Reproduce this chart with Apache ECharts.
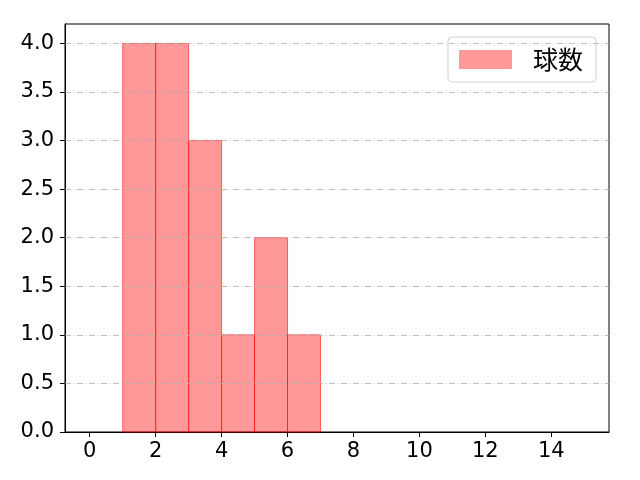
<!DOCTYPE html>
<html><head><meta charset="utf-8">
<script src="https://cdn.jsdelivr.net/npm/echarts@6/dist/echarts.min.js"></script>
<style>html,body{margin:0;padding:0;background:#fff}#c{width:640px;height:480px}</style>
</head><body><div id="c"></div>
<script>
const binStarts = [1, 2, 3, 4, 5, 6];
const binEnds = [2, 3, 4, 5, 6, 7];
const counts = [4, 4, 3, 1, 2, 1];
const xTicks = [0, 2, 4, 6, 8, 10, 12, 14];
const yTicks = [0, 0.5, 1, 1.5, 2, 2.5, 3, 3.5, 4];
const seriesName = '球数';

const FONT = '"DejaVu Sans", sans-serif';
const CJK = '"Noto Sans CJK JP", sans-serif';
const chart = echarts.init(document.getElementById('c'));
const data = binStarts.map((s, i) => [s, binEnds[i], counts[i]]);
chart.setOption({
  animation: false,
  grid: { left: 65, right: 31, top: 24, bottom: 48, show: true, borderColor: '#000', borderWidth: 1, backgroundColor: 'transparent' },
  xAxis: {
    type: 'value', min: -0.75, max: 15.75,
    axisLine: { show: true, onZero: false, lineStyle: { color: '#000', width: 1 } },
    splitLine: { show: false },
    axisTick: { show: true, inside: false, customValues: xTicks, length: 5, lineStyle: { color: '#000', width: 1 } },
    axisLabel: { customValues: xTicks, color: '#000', fontSize: 21, fontFamily: FONT, margin: 9 }
  },
  yAxis: {
    type: 'value', min: 0, max: 4.2,
    axisLine: { show: true, onZero: false, lineStyle: { color: '#000', width: 1 } },
    splitLine: { show: false },
    axisTick: { show: true, inside: false, customValues: yTicks, length: 5, lineStyle: { color: '#000', width: 1 } },
    axisLabel: { customValues: yTicks, color: '#000', fontSize: 21, fontFamily: FONT, margin: 11,
      formatter: v => v.toFixed(1) }
  },
  legend: {
    show: true, right: 44, top: 37, orient: 'vertical',
    itemWidth: 53, itemHeight: 19, itemGap: 10,
    padding: [10, 13, 10, 11],
    borderColor: '#d0d0d0', borderWidth: 1, borderRadius: 4, backgroundColor: '#fff',
    textStyle: { fontSize: 25, fontFamily: CJK, color: '#000', padding: [0, 0, 0, 16] },
    data: [{ name: seriesName, icon: 'rect' }]
  },
  series: [
    {
      type: 'line', name: '_grid', silent: true, data: [],
      markLine: {
        silent: true, symbol: 'none', label: { show: false },
        lineStyle: { color: '#b0b0b0', width: 0.8, type: [6, 2.5, 1, 2.5] },
        data: yTicks.filter(v => v > 0).map(v => ({ yAxis: v }))
      }
    },
    {
      type: 'custom', name: seriesName,
      itemStyle: { color: 'rgba(255,0,0,0.4)', borderColor: 'rgba(255,0,0,0.55)' },
      renderItem: function (params, api) {
        const p0 = api.coord([api.value(0), api.value(2)]);
        const p1 = api.coord([api.value(1), 0]);
        return {
          type: 'rect',
          shape: { x: p0[0], y: p0[1], width: p1[0] - p0[0], height: p1[1] - p0[1] },
          style: { fill: 'rgba(255,0,0,0.4)', stroke: 'rgba(255,0,0,0.55)', lineWidth: 1 }
        };
      },
      encode: { x: [0, 1], y: 2 },
      data: data, z: 3
    }
  ]
});
</script></body></html>
